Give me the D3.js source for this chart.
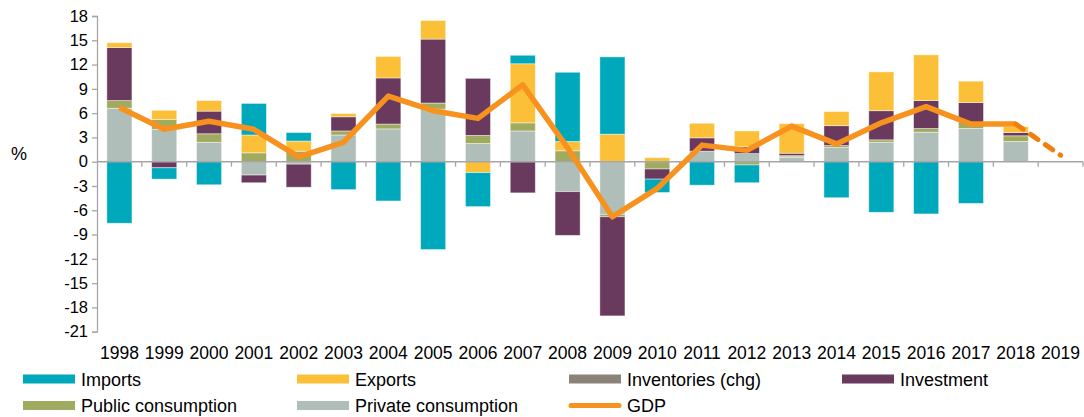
<!DOCTYPE html>
<html>
<head>
<meta charset="utf-8">
<script src="https://cdn.jsdelivr.net/npm/d3@7"></script>
<style>
  body { margin: 0; background: #fff; }
  text { font-family: Arial, "Liberation Sans", sans-serif; fill: #000; }
</style>
</head>
<body>
<div id="chart"></div>
<script>
// datos (contribuciones al PIB, pp)
const years = ["1998","1999","2000","2001","2002","2003","2004","2005","2006","2007","2008",
               "2009","2010","2011","2012","2013","2014","2015","2016","2017","2018","2019"];
const privateCons = [6.6, 4.0, 2.4, -1.65, -0.3, 3.3, 4.05, 6.5, 2.25, 3.8, -3.7,
                     -6.5, 0, 1.3, 1.0, 0.55, 1.75, 2.4, 3.65, 4.1, 2.5, 0];
const publicCons = [0.95, 1.2, 1.05, 1.1, 1.3, 0.5, 0.6, 0.75, 1.0, 1.0, 1.35,
                    -0.3, -0.9, 0, -0.4, 0.15, 0.25, 0.3, 0.45, 0.75, 0.7, 0];
const inventories = [0, 0, 0, 0, 0, 0, 0, 0, 0, 0, 0,
                     0, 0, 0, 0, 0.05, 0, 0, 0, 0, 0, 0];
const investment = [6.55, -0.75, 2.8, -0.95, -2.85, 1.75, 5.7, 7.9, 7.05, -3.85, -5.4,
                    -12.25, -1.25, 1.65, 0.85, 0.3, 2.45, 3.6, 3.45, 2.45, 0.4, 0];
const exportsC = [0.6, 1.15, 1.3, 2.2, 1.25, 0.4, 2.65, 2.3, -1.35, 7.3, 1.15,
                  3.4, 0.5, 1.8, 1.95, 3.65, 1.75, 4.8, 5.65, 2.65, 0.75, 0];
const importsC = [-7.6, -1.4, -2.85, 3.9, 1.05, -3.45, -4.85, -10.85, -4.2, 1.05, 8.55,
                  9.55, -1.65, -2.9, -2.2, 0, -4.45, -6.25, -6.45, -5.15, 0, 0];
const gdp = [6.7, 4.0, 5.0, 4.0, 0.6, 2.4, 8.1, 6.3, 5.35, 9.5, 1.7,
             -6.8, -3.3, 2.05, 1.4, 4.4, 2.2, 4.8, 6.8, 4.65, 4.65, 0.8];
const yTicks = [18, 15, 12, 9, 6, 3, 0, -3, -6, -9, -12, -15, -18, -21];

// orden de apilado (de abajo hacia arriba)
const series = [
  { key: "private", name: "Private consumption", values: privateCons, color: "#B0BEB9" },
  { key: "public", name: "Public consumption", values: publicCons, color: "#A1AB60" },
  { key: "inv", name: "Inventories (chg)", values: inventories, color: "#8C8378" },
  { key: "investment", name: "Investment", values: investment, color: "#693A5D" },
  { key: "exports", name: "Exports", values: exportsC, color: "#FBBF38" },
  { key: "imports", name: "Imports", values: importsC, color: "#00A8BB" }
];
const GDP_COLOR = "#F7921E";

const WIDTH = 1084, HEIGHT = 417;
const svg = d3.select("#chart").append("svg").attr("width", WIDTH).attr("height", HEIGHT);

const x = d3.scaleBand().domain(years).range([97, 1083]).padding(0);
const y = d3.scaleLinear().domain([-21, 18]).range([331.7, 16]);

// tabla para d3.stack
const table = years.map((yr, i) => {
  const row = { year: yr };
  series.forEach(s => row[s.key] = s.values[i]);
  return row;
});
const stack = d3.stack().keys(series.map(s => s.key)).offset(d3.stackOffsetDiverging);
const stacked = stack(table);

const barW = x.bandwidth() * 0.56;
svg.append("g").selectAll("g")
  .data(stacked)
  .join("g")
  .attr("fill", (d, i) => series[i].color)
  .selectAll("rect")
  .data(d => d)
  .join("rect")
  .attr("x", d => x(d.data.year) + (x.bandwidth() - barW) / 2)
  .attr("width", barW)
  .attr("y", d => y(Math.max(d[0], d[1])))
  .attr("height", d => Math.abs(y(d[0]) - y(d[1])))
  .attr("stroke", "rgba(255,255,255,0.55)")
  .attr("stroke-width", 0.8);

// ejes
const AXIS = "#A6A6A6";
const yAxis = svg.append("g").attr("transform", "translate(97,0)")
  .call(d3.axisLeft(y).tickValues(yTicks).tickFormat(d => String(d)).tickSize(5).tickPadding(4));
yAxis.select(".domain").attr("stroke", AXIS).attr("stroke-width", 1.3);
yAxis.selectAll(".tick line").attr("stroke", AXIS).attr("stroke-width", 1.3);
yAxis.selectAll(".tick text").attr("font-size", 16.5).attr("fill", "#000")
  .attr("font-family", "Arial, 'Liberation Sans', sans-serif");

const xAxisG = svg.append("g").attr("transform", `translate(0,${y(0)})`);
xAxisG.append("line").attr("x1", 97).attr("x2", 1083)
  .attr("stroke", AXIS).attr("stroke-width", 1.5);
xAxisG.selectAll("line.tk")
  .data(years.slice(1).concat(["end"]))
  .join("line")
  .attr("class", "tk")
  .attr("x1", d => d === "end" ? 1083 : x(d))
  .attr("x2", d => d === "end" ? 1083 : x(d))
  .attr("y1", 0).attr("y2", 5)
  .attr("stroke", AXIS).attr("stroke-width", 1.3);

svg.append("g").selectAll("text")
  .data(years)
  .join("text")
  .attr("x", d => x(d) + x.bandwidth() / 2)
  .attr("y", 359)
  .attr("text-anchor", "middle")
  .attr("font-size", 17.5)
  .text(d => d);

svg.append("text").attr("x", 11).attr("y", 160).attr("font-size", 18).text("%");

// linea del PIB: solida hasta 2018, punteada 2018-2019
const gdpPts = gdp.map((v, i) => ({ v, i }));
const lineP = d3.line().x(d => x(years[d.i]) + x.bandwidth() / 2).y(d => y(d.v));
svg.append("path")
  .attr("d", lineP(gdpPts.slice(0, 21)))
  .attr("fill", "none").attr("stroke", GDP_COLOR)
  .attr("stroke-width", 5.5).attr("stroke-linejoin", "round");
svg.append("path")
  .attr("d", lineP(gdpPts.slice(20)))
  .attr("fill", "none").attr("stroke", "#F07F0C")
  .attr("stroke-width", 5).attr("stroke-dasharray", "9,9")
  .attr("stroke-linecap", "round");

// leyenda
const legendItems = [
  { name: "Imports", color: "#00A8BB", col: 0, row: 0 },
  { name: "Exports", color: "#FBBF38", col: 1, row: 0 },
  { name: "Inventories (chg)", color: "#8C8378", col: 2, row: 0 },
  { name: "Investment", color: "#693A5D", col: 3, row: 0 },
  { name: "Public consumption", color: "#A1AB60", col: 0, row: 1 },
  { name: "Private consumption", color: "#B0BEB9", col: 1, row: 1 },
  { name: "GDP", color: GDP_COLOR, col: 2, row: 1, isLine: true }
];
const colX = [23, 297, 569, 842];
const rowY = [379, 405.5];
const leg = svg.append("g").selectAll("g").data(legendItems).join("g")
  .attr("transform", d => `translate(${colX[d.col]},${rowY[d.row]})`);
leg.each(function(d) {
  const g = d3.select(this);
  if (d.isLine) {
    g.append("line").attr("x1", 2).attr("x2", 50).attr("y1", 0).attr("y2", 0)
      .attr("stroke", d.color).attr("stroke-width", 5).attr("stroke-linecap", "round");
  } else {
    g.append("rect").attr("x", 0).attr("y", -4.5).attr("width", 52).attr("height", 9)
      .attr("fill", d.color);
  }
  g.append("text").attr("x", 58).attr("y", 6.5).attr("font-size", 18).text(d.name);
});
</script>
</body>
</html>
